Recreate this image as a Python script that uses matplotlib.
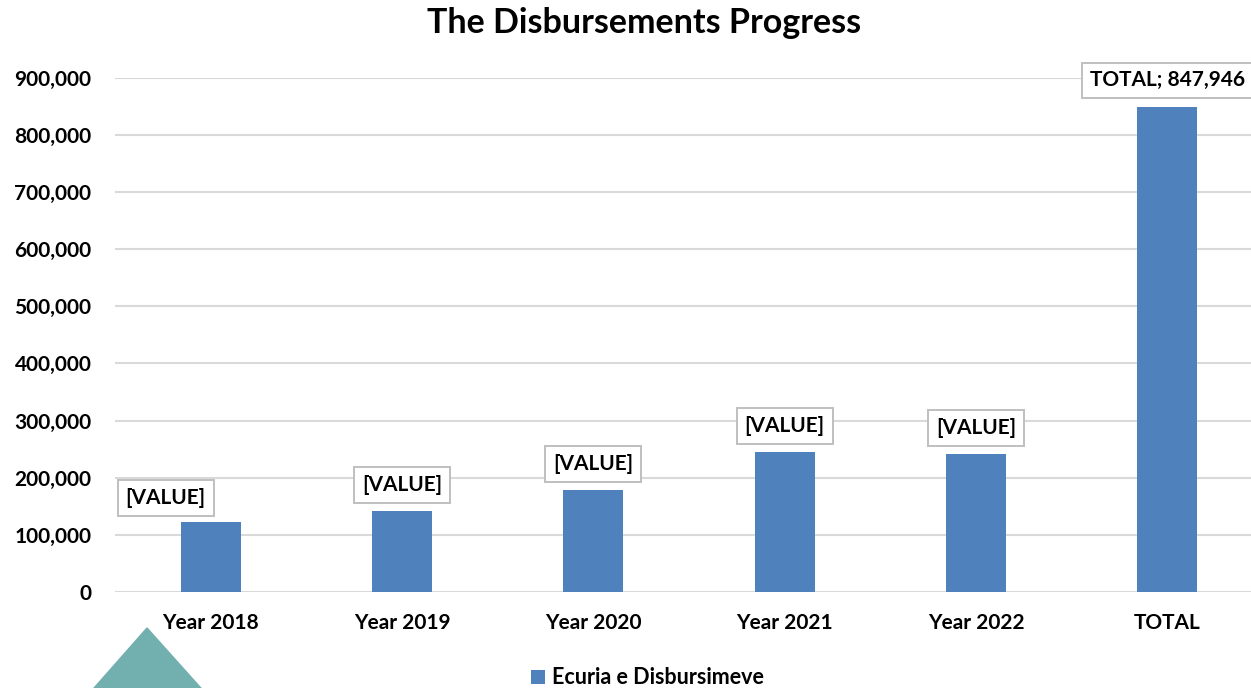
import matplotlib
matplotlib.use("Agg")
import matplotlib.pyplot as plt
from matplotlib.patches import Polygon
from matplotlib.ticker import FuncFormatter

plt.rcParams["font.family"] = ["Lato", "DejaVu Sans"]
plt.rcParams["font.weight"] = "bold"

categories = ["Year 2018", "Year 2019", "Year 2020", "Year 2021", "Year 2022", "TOTAL"]
disbursements = [122400, 141600, 178300, 244200, 240700, 847946]
series_name = "Ecuria e Disbursimeve"
label_texts = ["[VALUE]"] * 5 + [f"TOTAL; {disbursements[-1]:,}"]

# label box offsets from the bar top (points); Excel had the first one dragged left
label_dx = [-32.5, 0, 0, 0, 0, 0]
label_dy = [17.5, 19, 19, 19, 19, 19.3]

bar_color = "#4F81BD"
grid_color = "#D9D9D9"

fig = plt.figure(figsize=(12.51, 6.88), dpi=100)
ax = fig.add_axes([115 / 1251, 96 / 688, 1148 / 1251, 514.5 / 688])

x = range(len(categories))
bars = ax.bar(x, disbursements, width=0.313, color=bar_color, label=series_name, zorder=2)

for i, v in enumerate(disbursements):
    ax.annotate(label_texts[i], xy=(i, v), xytext=(label_dx[i], label_dy[i]),
                textcoords="offset points", ha="center", va="center",
                fontsize=15, fontweight="bold", color="black", zorder=3,
                bbox=dict(boxstyle="square,pad=0.38", fc="white", ec="#BFBFBF", lw=1.4))

ax.set_xlim(-0.5, len(categories) - 0.5)
ax.set_ylim(0, 900000)
ax.set_yticks(range(0, 900001, 100000))
ax.yaxis.set_major_formatter(FuncFormatter(lambda v, p: f"{int(v):,}"))
ax.set_xticks(list(x))
ax.set_xticklabels(categories)
ax.tick_params(axis="both", length=0, labelsize=15)
ax.tick_params(axis="x", pad=15)
ax.tick_params(axis="y", pad=17)
for lab in ax.get_xticklabels() + ax.get_yticklabels():
    lab.set_fontweight("bold")

ax.grid(axis="y", color=grid_color, linewidth=1.5, zorder=0)
ax.set_axisbelow(True)
for s in ax.spines.values():
    s.set_visible(False)

fig.text(644.5 / 1251, 1 - 23 / 688, "The Disbursements Progress", ha="center", va="center",
         fontsize=24.5, fontweight="bold")

fig.legend(handles=[bars], labels=[series_name], loc="center",
           bbox_to_anchor=(647.5 / 1251, 1 - 678 / 688), frameon=False,
           prop={"size": 15.5, "weight": "bold"}, handlelength=0.65, handleheight=0.65,
           handletextpad=0.35)

# teal triangle decoration in the lower left corner
tri = Polygon([[88 / 1251, -0.01], [147 / 1251, 1 - 628 / 688], [207 / 1251, -0.01]],
              closed=True, transform=fig.transFigure, color="#72AFAF", zorder=5)
fig.patches.append(tri)

fig.savefig("out.png", dpi=100)
